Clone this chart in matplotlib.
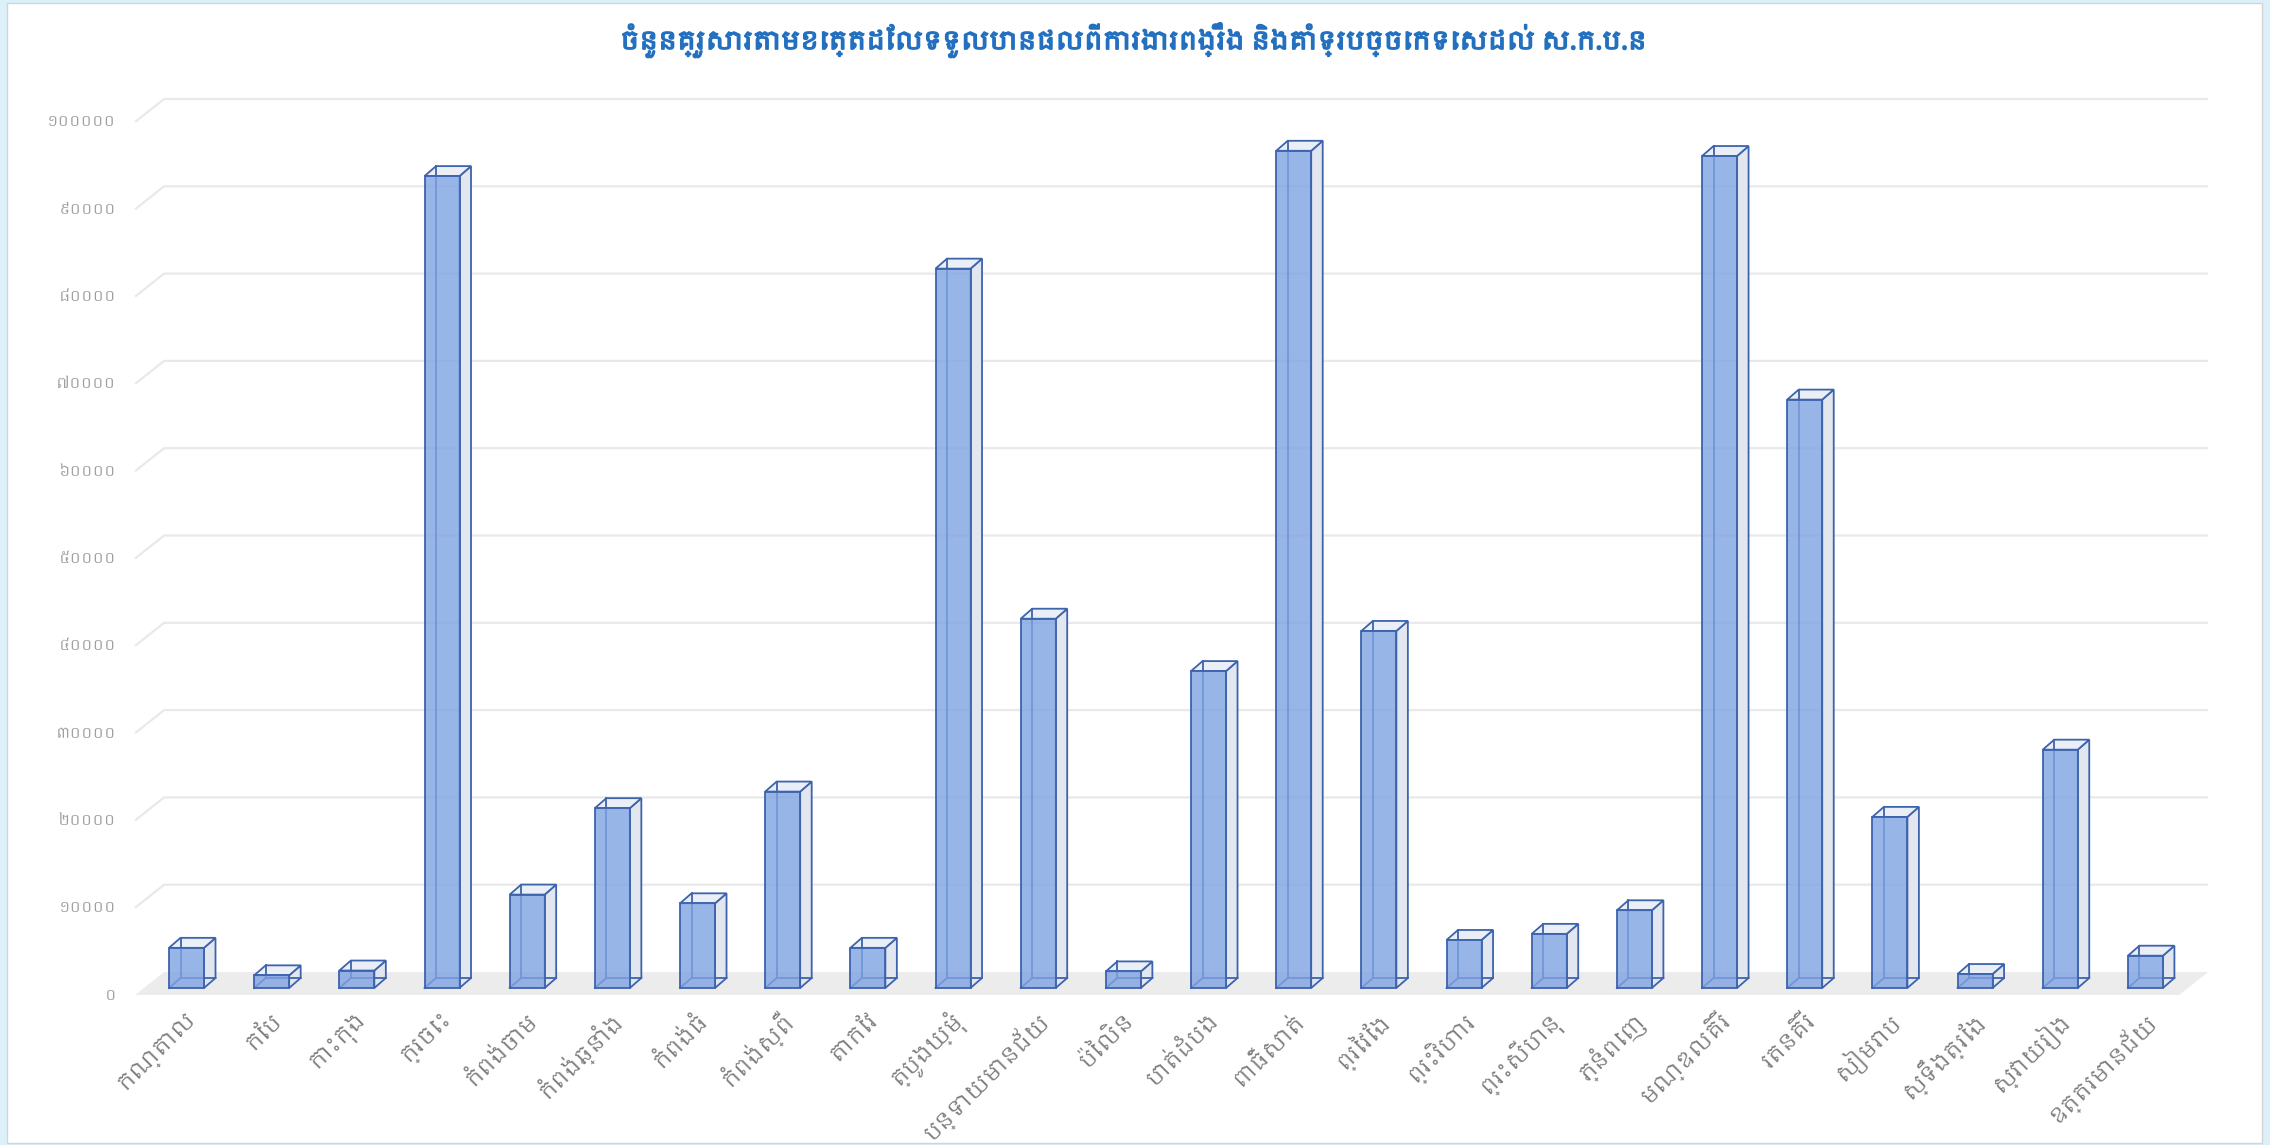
"""
3D-style column chart: households per province (Khmer labels).
"""
import numpy as np
import matplotlib
matplotlib.use("Agg")
import matplotlib.pyplot as plt
from matplotlib import font_manager
from matplotlib import patheffects as pe
from matplotlib.patches import Polygon, Rectangle

# ── Data ──────────────────────────────────────────────────────────────────────
TITLE = ("ចំនួនគ្រួសារតាមខេត្តដែលទទួលបានផលពីការងារពង្រឹង "
         "និងគាំទ្របច្ចេកទេសដល់ ស.ក.ប.ន")

provinces = [
    "កណ្តាល", "កែប", "កោះកុង", "ក្រចេះ", "កំពង់ចាម", "កំពង់ឆ្នាំង",
    "កំពង់ធំ", "កំពង់ស្ពឺ", "តាកែវ", "ត្បូងឃ្មុំ", "បន្ទាយមានជ័យ", "ប៉ៃលិន",
    "បាត់ដំបង", "ពោធិ៍សាត់", "ព្រៃវែង", "ព្រះវិហារ", "ព្រះសីហនុ", "ភ្នំពេញ",
    "មណ្ឌលគិរី", "រតនគិរី", "សៀមរាប", "ស្ទឹងត្រែង", "ស្វាយរៀង", "ឧត្តរមានជ័យ",
]
households = [
    4600, 1450, 2000, 93000, 10700, 20600,
    9700, 22500, 4600, 82400, 42300, 1900,
    36300, 95900, 40900, 5500, 6200, 8900,
    95300, 67400, 19600, 1600, 27300, 3700,
]
y_ticks = [0, 10000, 20000, 30000, 40000, 50000,
           60000, 70000, 80000, 90000, 100000]
y_tick_labels = ["០", "១០០០០", "២០០០០", "៣០០០០", "៤០០០០", "៥០០០០",
                 "៦០០០០", "៧០០០០", "៨០០០០", "៩០០០០", "១០០០០០"]

# ── Layout (pixels of the 2270 x 1145 canvas) ────────────────────────────────
W, H, DPI = 2270, 1145, 100
X0_PX = 186.5          # centre of first bar (front plane)
Y0_PX = 988.0          # zero of the bar front plane, from top
PX_PER_CAT = 85.17
PX_PER_UNIT = 0.00873  # pixels per household

BAR_W_PX = 35
BAR_DX_PX, BAR_DY_PX = 11.5, 10      # bar depth
FLOOR_FRONT_PX = 7                   # floor edge below bar-front zero
FLOOR_BACK_PX = 16                   # floor back edge above bar-front zero
SLANT = 1.26                         # horizontal shift per vertical px of depth

EDGE = "#3d63ad"
FRONT = "#7fa3e3"
SIDE = "#e2e6ee"
TOP = "#eaeef6"
GRID = "#e9e9e9"
FLOOR = "#ececec"
TITLE_BLUE = "#2370c0"


def cx(px):
    return px / PX_PER_CAT


def vy(px):
    return px / PX_PER_UNIT


def khmer_family():
    """Register every installed font covering the Khmer block, return a family."""
    try:
        from fontTools.ttLib import TTFont
    except ImportError:
        return None
    names = []
    for path in sorted(font_manager.findSystemFonts()):
        try:
            tt = TTFont(path, fontNumber=0, lazy=True)
            cmap = tt.getBestCmap() or {}
        except Exception:
            continue
        if 0x1780 in cmap and 0x17E0 in cmap:
            font_manager.fontManager.addfont(path)
            names.append(font_manager.FontProperties(fname=path).get_name())
    if not names:
        return None
    khmer_named = [n for n in names if "khmer" in n.lower()]
    return (khmer_named or names)[0]


kh = khmer_family()
families = [kh, "DejaVu Sans"] if kh else ["DejaVu Sans"]
plt.rcParams["font.family"] = families


def draw_bar(ax, x, v):
    bw, ddx, ddy = cx(BAR_W_PX), cx(BAR_DX_PX), vy(BAR_DY_PX)
    xl, xr = x - bw / 2, x + bw / 2
    ax.add_patch(Polygon([(xr, 0), (xr + ddx, ddy), (xr + ddx, v + ddy), (xr, v)],
                         closed=True, fc=SIDE, ec=EDGE, lw=1.3, zorder=3))
    ax.add_patch(Polygon([(xl, v), (xr, v), (xr + ddx, v + ddy), (xl + ddx, v + ddy)],
                         closed=True, fc=TOP, ec=EDGE, lw=1.3, zorder=3))
    # back edges, seen through the translucent front face
    ax.plot([xl + ddx, xl + ddx], [ddy, v + ddy], color=EDGE, lw=1.3, zorder=3.5)
    ax.plot([xl, xl + ddx, xr + ddx], [0, ddy, ddy], color=EDGE, lw=1.3, zorder=3.5)
    ax.add_patch(Rectangle((xl, 0), bw, v, fc=FRONT, alpha=0.8, ec="none", zorder=4))
    ax.add_patch(Rectangle((xl, 0), bw, v, fc="none", ec=EDGE, lw=1.3, zorder=4.5))


def main():
    fig = plt.figure(figsize=(W / DPI, H / DPI), dpi=DPI)
    fig.patch.set_facecolor("#dcf0fa")
    fig.add_artist(Rectangle((7 / W, 2 / H), 2255 / W, 1140 / H,
                             transform=fig.transFigure, fc="white",
                             ec="#d4d4d4", lw=1, zorder=0))

    ax = fig.add_axes([0, 0, 1, 1])
    ax.set_xlim(cx(-X0_PX), cx(W - X0_PX))
    ax.set_ylim(vy(-(H - Y0_PX)), vy(Y0_PX))
    ax.axis("off")

    n = len(provinces)
    half = 0.5
    f_left = -half - cx(FLOOR_FRONT_PX * SLANT)
    f_right = n - half - cx(FLOOR_FRONT_PX * SLANT)
    b_left = -half + cx(FLOOR_BACK_PX * SLANT)
    b_right = n - half + cx(FLOOR_BACK_PX * SLANT)
    f_y, b_y = -vy(FLOOR_FRONT_PX), vy(FLOOR_BACK_PX)

    # floor
    ax.add_patch(Polygon([(f_left, f_y), (f_right, f_y), (b_right, b_y), (b_left, b_y)],
                         closed=True, fc=FLOOR, ec="none", zorder=1))

    # gridlines on back wall + slanted side-wall part, tick labels
    for g, lab in zip(y_ticks, y_tick_labels):
        if g > 0:
            ax.plot([f_left, b_left, b_right], [g + f_y, g + b_y, g + b_y],
                    color=GRID, lw=1.6, zorder=1.5, solid_capstyle="butt")
        ax.text(f_left - cx(19), g + f_y, lab, ha="right", va="center",
                fontsize=11, color="#a0a0a0")

    for i, v in enumerate(households):
        draw_bar(ax, i, v)

    for i, name in enumerate(provinces):
        ax.text(i + cx(7), -vy(1016 - Y0_PX), name, rotation=45,
                rotation_mode="anchor", ha="right", va="center",
                fontsize=16, color="#7f7f7f")

    fig.text(1133 / W, 1 - 40 / H, TITLE, ha="center", va="center",
             fontsize=18, fontweight="bold", color=TITLE_BLUE,
             path_effects=[pe.withStroke(linewidth=1.2, foreground=TITLE_BLUE)])

    fig.savefig("out.png", dpi=DPI)
    plt.close(fig)


if __name__ == "__main__":
    main()
